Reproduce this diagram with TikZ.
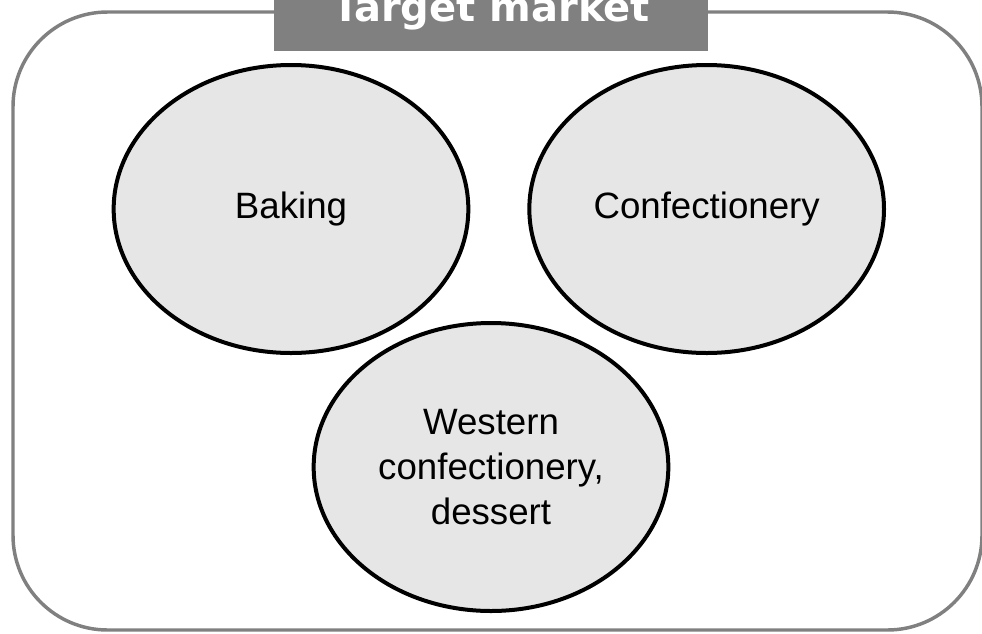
\documentclass[tikz,border=0pt]{standalone}
\usepackage{fontspec}
\setmainfont{Liberation Sans}
\newfontfamily\titlefont{DejaVu Sans}
\usetikzlibrary{shapes.geometric,positioning}
\definecolor{framegray}{HTML}{808080}
\definecolor{marketfill}{HTML}{E6E6E6}
\tikzset{
  marketbox/.style={
    ellipse, draw=black, fill=marketfill, line width=3pt,
    minimum width=266pt, minimum height=216pt,
    inner sep=0pt, align=center,
    font=\fontsize{27.5}{33.75}\selectfont
  },
  framebox/.style={
    draw=framegray, line width=2.6pt, rounded corners=71pt
  },
  titlebox/.style={
    rectangle, fill=framegray, text=white, inner sep=0pt,
    minimum width=325.5pt, minimum height=67.5pt, text depth=0pt,
    font=\titlefont\bfseries\fontsize{30}{35}\selectfont
  },
}

\begin{document}
\begin{tikzpicture}[x=0.75pt,y=-0.75pt]
  \useasboundingbox (0,0) rectangle (982,633);
  % outer frame
  \draw[framebox] (13,12) rectangle (982,630);
  % title tab
  \node[titlebox] (title) at (491,6) {Target market};

  % markets
  \node[marketbox] (baking) at (291,209) {Baking};
  \node[marketbox, right=42.75pt of baking] (confect) {Confectionery};
  \node[marketbox] (western) at (491,467) {Western\\confectionery,\\dessert};
\end{tikzpicture}
\end{document}
